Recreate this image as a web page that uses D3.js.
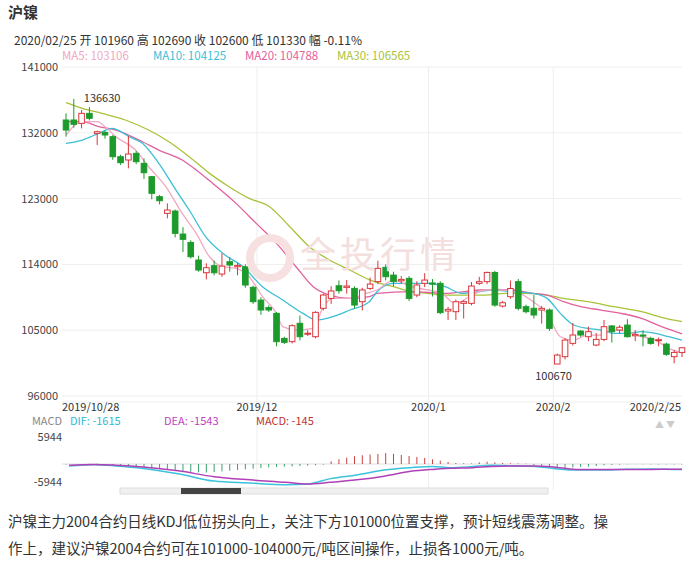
<!DOCTYPE html>
<html><head><meta charset="utf-8">
<script src="https://cdn.jsdelivr.net/npm/d3@7"></script>
<style>body{margin:0;background:#fff;font-family:"Noto Sans CJK SC","Noto Sans",sans-serif}</style>
</head><body><svg id="c" width="692" height="564"></svg>
<script>
// OHLC per trading day, 2019/10/28 .. 2020/2/25
const opens=[133750,133750,133290,134660,131920,132060,131470,128730,128280,129190,127820,126000,123260,120980,121300,118150,117010,114600,112860,113820,112680,114370,113680,113680,110860,109120,108100,107300,103880,103430,105940,104500,104110,107990,109350,111080,110860,110720,108900,110720,111640,113600,112540,111760,112090,109810,111410,111460,111410,107620,107530,108670,108670,111410,111640,112900,108300,109580,111640,108220,107990,107760,107760,100370,101380,103200,104880,104110,102970,103740,105580,105030,105700,104240,104340,103880,103600,103100,101380,101960];
const closes=[132380,133160,134660,133980,132150,131700,128730,127910,129100,128050,126540,123720,122710,121440,118250,117430,115050,113230,113550,112860,113770,113910,113860,111180,108900,107760,107760,103430,103340,105620,104110,104580,107440,109810,110360,110400,111040,108440,110500,111310,113460,112320,111640,111950,109350,111180,111860,111300,107400,107850,108900,108900,111040,111640,112900,108440,108760,110700,107990,107530,107080,107990,105250,101600,103650,104340,104340,104800,103740,105480,104800,105400,104110,104430,104200,103200,103700,101700,101960,102600];
const highs=[134660,136630,135120,135500,132300,132300,131700,129000,131560,129500,128500,126100,123500,122350,121500,119100,117300,115200,114150,114500,115510,115000,114200,114000,111100,109500,108400,107500,104100,105800,107000,105000,107600,110000,111000,111800,111860,111000,110800,112200,114500,114000,113000,112400,112400,111700,112800,112000,111700,108200,109200,109100,111600,112300,113000,113100,109000,111800,112000,108500,109800,108300,108000,101800,103900,106000,105000,105500,104600,106400,105700,105700,106500,105000,105000,104100,104000,103300,102300,102690];
const lows=[131470,132700,132600,133700,130330,131200,128300,127600,127140,127700,125700,122900,122200,120300,117700,115700,114800,113000,111950,112500,112300,113000,112500,110800,108600,107100,107500,102800,103100,103200,103600,104200,103900,107700,108600,110000,110000,108000,107700,110500,111300,111800,111000,111400,109000,109500,110900,109600,107200,106400,106400,106600,108400,111200,111300,108200,108100,109300,107700,107300,106600,105900,104900,100670,101000,102900,104100,103500,102800,103500,103300,104600,104000,103500,102800,103000,102800,101500,100470,101330];
// moving averages: [day index, value]
const ma5=[[0,131700],[2.1,133520],[4,133520],[5,132840],[6.4,131470],[8.9,129640],[10.6,127360],[12.8,124630],[14.9,120980],[16.7,118250],[18.4,115050],[20.1,113680],[21.8,113460],[23.5,112320],[25.2,109580],[27,107300],[27.8,105480],[29.5,105020],[31.7,105250],[33,108210],[34.2,109350],[36.4,109350],[38.5,110040],[39.9,110500],[42,111860],[44.3,110950],[46.4,110500],[48.2,110040],[49.9,108670],[52.1,109810],[53.8,110500],[56,110500],[58.2,110040],[59.9,108900],[61.7,107300],[63.4,104110],[65.1,103650],[66.9,104340],[68.6,104340],[70.3,105020],[72.1,104800],[73.8,104110],[75.6,103650],[77.3,102510],[79,101900]];
const ma10=[[0,130560],[2.1,131010],[4.2,131930],[5.9,132610],[8.1,131470],[9.8,130560],[11.9,127820],[14.1,124170],[15.8,121440],[17.9,117790],[20.1,115510],[22.7,113680],[25.2,110950],[27.8,109130],[30.4,107300],[32.1,106390],[34.2,106850],[36.4,107760],[38.9,108900],[39.9,110270],[42,111400],[44.3,111400],[46.4,111400],[48.6,110950],[50.8,110040],[53,110270],[54.7,110500],[57.3,110270],[59.9,110040],[61.7,109350],[63.4,107300],[65.1,105710],[66.9,105250],[68.6,105020],[70.3,104570],[72.1,104570],[73.8,104800],[75.6,104570],[77.3,104110],[79,103650]];
const ma20=[[0,133520],[2.1,133520],[4.2,132840],[6.4,132380],[9.8,130780],[11.9,129640],[14.9,128280],[16.7,126910],[18.8,125090],[21.8,122350],[24.4,119610],[27,116880],[29.5,113680],[31.7,110950],[33.8,109810],[36.4,109350],[38.9,109580],[39.9,110040],[44.3,110270],[48.6,110040],[53,110500],[55.1,110590],[57.3,110500],[59.9,110040],[61.7,109810],[63.8,108900],[66,108210],[68.6,107760],[71.2,107300],[73.8,106620],[76.4,105480],[79,104500]];
const ma30=[[0,136120],[2.1,135340],[4.6,134660],[7.6,133750],[10.6,132380],[13.2,130780],[15.8,128730],[18.4,126450],[20.9,124630],[23.5,123030],[26.1,121890],[28.7,119160],[31.2,116420],[33.8,114600],[36.4,113230],[39,111860],[42,110950],[44.3,110270],[46.4,110040],[48.6,109810],[51.2,109810],[53.8,109810],[56.4,110040],[59,110040],[61.7,109810],[63.8,109350],[66.9,108900],[70.3,108210],[73.8,107530],[76.9,106620],[79,106160]];
const dif=[[0.4,-580],[3.6,-220],[6.4,-580],[9.9,-1310],[14.4,-2900],[19,-5080],[23.6,-5650],[28.2,-6160],[31,-5950],[33.9,-4350],[37.3,-3260],[40.8,-1810],[44.2,-1090],[47,-725],[49.3,-1090],[52.2,-725],[54.5,-360],[57.3,-580],[60.2,-725],[62.5,-1310],[65.4,-1810],[68.2,-1810],[71.7,-1590],[75.1,-1450],[78.5,-1615],[79,-1615]];
const dea=[[0.4,-360],[3.6,-145],[6.4,-360],[9.9,-870],[14.4,-2030],[19,-3770],[23.6,-4710],[28.2,-5440],[31,-5950],[33.9,-5440],[37.3,-4710],[40.8,-3620],[44.2,-2170],[47,-1600],[49.3,-1300],[52.2,-1090],[54.5,-725],[57.3,-580],[60.2,-580],[62.5,-870],[65.4,-1600],[68.2,-1600],[71.7,-1600],[75.1,-1600],[79,-1543]];
const macd=[-150,-100,-50,50,80,-100,-300,-500,-700,-900,-1100,-1300,-1500,-1700,-1900,-2100,-2300,-2500,-2540,-2400,-2200,-2000,-1800,-1600,-1400,-1200,-1000,-900,-800,-700,-600,-500,-400,-200,800,1400,1900,2300,2600,2800,3000,3260,3000,2700,2400,2100,1800,1400,1000,600,300,200,150,500,700,500,300,200,150,100,-300,-500,-700,-900,-1100,-1000,-900,-800,-600,-400,-300,-200,-100,-50,-80,-100,-150,-100,-120,-145];
const priceTicks=[141000,132000,123000,114000,105000,96000];
const dateTicks=[["2019/10/28",0,"start"],["2019/12",25,"middle"],["2020/1",47,"middle"],["2020/2",63,"middle"],["2020/2/25",79,"end"]];
const gridDays=[25,47,63];

const svg=d3.select("#c");
const x=d3.scaleLinear().domain([0,79]).range([66,682]);
const y=d3.scaleLinear().domain([96000,141000]).range([396,67]);
const ym=d3.scaleLinear().domain([-5944,5944]).range([484,444]);
const g=svg.append("g");
svg.append("text").attr("x",8).attr("y",18).attr("font-size",15).attr("font-weight","bold").attr("fill","#333").text("沪镍");
svg.append("text").attr("x",14).attr("y",45).attr("font-size",12).attr("fill","#333").text("2020/02/25  开 101960  高 102690  收 102600  低 101330  幅 -0.11%");
const maCols=["#f2a7c2","#3bbfd6","#e2619c","#a9c238"];
[["MA5: 103106",62],["MA10: 104125",153],["MA20: 104788",245],["MA30: 106565",337]].forEach((d,i)=>svg.append("text").attr("x",d[1]).attr("y",60).attr("font-size",11.5).attr("fill",maCols[i]).text(d[0]));
priceTicks.forEach(t=>{g.append("line").attr("x1",62).attr("x2",682).attr("y1",y(t)).attr("y2",y(t)).attr("stroke","#eee");
 g.append("text").attr("x",58).attr("y",y(t)+4).attr("text-anchor","end").attr("font-size",11).attr("fill","#444").text(t);});
gridDays.forEach(d=>g.append("line").attr("x1",x(d)-4).attr("x2",x(d)-4).attr("y1",67).attr("y2",490).attr("stroke","#eee"));
g.append("line").attr("x1",62).attr("x2",682).attr("y1",402).attr("y2",402).attr("stroke","#eee");
svg.append("text").attr("x",300).attr("y",268).attr("font-size",36).attr("fill","#f4dede").attr("letter-spacing",4).text("全投行情");
svg.append("circle").attr("cx",270).attr("cy",258).attr("r",20).attr("fill","none").attr("stroke","#f6e0e0").attr("stroke-width",8);
const ln=(ys)=>d3.line().x(d=>x(d[0])).y(d=>ys(d[1])).curve(d3.curveMonotoneX);
[ma30,ma20,ma10,ma5].forEach((m,i)=>g.append("path").attr("d",ln(y)(m)).attr("fill","none").attr("stroke",maCols[3-i]).attr("stroke-width",1.3));
const red="#d9363b",green="#1d9a2c";
opens.forEach((o,i)=>{const c=closes[i],up=c>=o,col=up?red:green,cx=x(i);
 g.append("line").attr("x1",cx).attr("x2",cx).attr("y1",y(highs[i])).attr("y2",y(lows[i])).attr("stroke",col);
 const t=y(Math.max(o,c)),b=y(Math.min(o,c));
 g.append("rect").attr("x",cx-2.8).attr("width",5.6).attr("y",t).attr("height",Math.max(1,b-t)).attr("fill",up?"#fff":col).attr("stroke",col).attr("stroke-width",1);});
svg.append("text").attr("x",x(1)+10).attr("y",y(136630)+3).attr("font-size",11).attr("fill","#333").text("136630");
svg.append("text").attr("x",x(63)-22).attr("y",y(100670)+18).attr("font-size",11).attr("fill","#333").text("100670");
dateTicks.forEach(d=>svg.append("text").attr("x",d[2]=="start"?62:d[2]=="end"?681:x(d[1])-4).attr("y",411).attr("text-anchor",d[2]).attr("font-size",11).attr("fill","#333").text(d[0]));
svg.append("text").attr("x",62).attr("y",425).attr("text-anchor","end").attr("font-size",11).attr("fill","#888").text("MACD");
svg.append("text").attr("x",70).attr("y",425).attr("font-size",11).attr("fill","#30b8d8").text("DIF: -1615");
svg.append("text").attr("x",164).attr("y",425).attr("font-size",11).attr("fill","#c040c0").text("DEA: -1543");
svg.append("text").attr("x",256).attr("y",425).attr("font-size",11).attr("fill","#c03030").text("MACD: -145");
svg.append("text").attr("x",655).attr("y",428).attr("font-size",9).attr("fill","#ccc").text("▲ ▼");
svg.append("text").attr("x",62).attr("y",441).attr("text-anchor","end").attr("font-size",11).attr("fill","#444").text("5944");
svg.append("text").attr("x",62).attr("y",486).attr("text-anchor","end").attr("font-size",11).attr("fill","#444").text("-5944");
g.append("line").attr("x1",62).attr("x2",682).attr("y1",ym(0)).attr("y2",ym(0)).attr("stroke","#ddd");
macd.forEach((v,i)=>g.append("line").attr("x1",x(i)).attr("x2",x(i)).attr("y1",ym(0)).attr("y2",ym(v)).attr("stroke",v>=0?"#c84040":"#3aa070").attr("stroke-width",1));
g.append("path").attr("d",ln(ym)(dif)).attr("fill","none").attr("stroke","#3bc3dc").attr("stroke-width",1.5);
g.append("path").attr("d",ln(ym)(dea)).attr("fill","none").attr("stroke","#b040b8").attr("stroke-width",1.5);
svg.append("rect").attr("x",120).attr("y",488).attr("width",428).attr("height",6).attr("fill","#f0f0f0").attr("stroke","#ddd");
svg.append("rect").attr("x",181).attr("y",488).attr("width",60).attr("height",6).attr("fill","#444");
svg.append("text").attr("x",8).attr("y",527).attr("font-size",14.5).attr("fill","#333").text("沪镍主力2004合约日线KDJ低位拐头向上，关注下方101000位置支撑，预计短线震荡调整。操");
svg.append("text").attr("x",8).attr("y",554).attr("font-size",14.5).attr("fill","#333").text("作上，建议沪镍2004合约可在101000-104000元/吨区间操作，止损各1000元/吨。");
</script></body></html>
